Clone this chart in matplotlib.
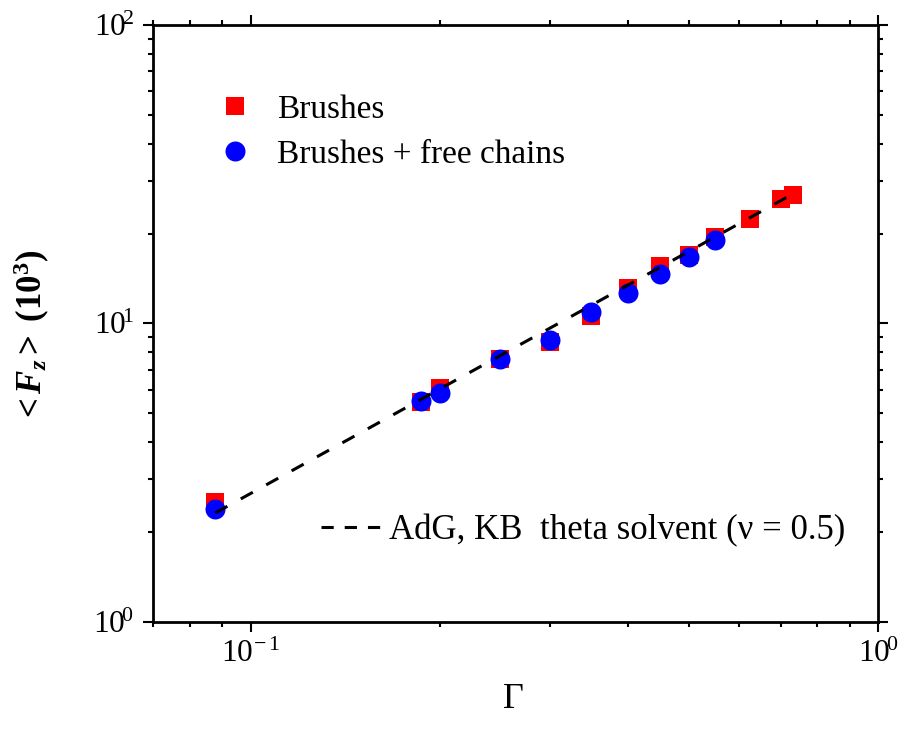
import matplotlib
matplotlib.use("Agg")
import matplotlib.pyplot as plt
from matplotlib.lines import Line2D
from matplotlib.ticker import LogLocator, FuncFormatter, NullFormatter
import numpy as np

plt.rcParams["font.family"] = ["Liberation Serif", "DejaVu Serif"]
plt.rcParams["mathtext.fontset"] = "custom"
plt.rcParams["mathtext.rm"] = "Liberation Serif"
plt.rcParams["mathtext.it"] = "Liberation Serif:italic"
plt.rcParams["mathtext.bf"] = "Liberation Serif:bold"
plt.rcParams["mathtext.bfit"] = "Liberation Serif:italic:bold"

# Grafting density and mean normal force (units of 10^3)
gamma_brush = [0.0879, 0.1872, 0.2000, 0.2501, 0.2997, 0.349, 0.3999, 0.4497,
               0.5000, 0.5500, 0.6246, 0.699, 0.7306]
fz_brush = [2.51, 5.47, 6.08, 7.57, 8.63, 10.55, 13.09, 15.6,
            16.95, 19.5, 22.3, 26.2, 26.85]

gamma_free = [0.0879, 0.1872, 0.2000, 0.2501, 0.2997, 0.349, 0.3999, 0.4497,
              0.5000, 0.5500]
fz_free = [2.38, 5.49, 5.84, 7.62, 8.80, 10.9, 12.62, 14.64, 16.66, 18.99]

# Scaling prediction (theta solvent), end points of the power-law line
gamma_theory = [0.0879, 0.73]
fz_theory = [2.315, 27.1]

W, H = 898, 731
fig = plt.figure(figsize=(W / 100, H / 100), dpi=100)
L, R, T, B = 152.5, 878.3, 25.0, 621.7
ax = fig.add_axes([L / W, 1 - B / H, (R - L) / W, (B - T) / H])

sq, = ax.plot(gamma_brush, fz_brush, linestyle="none", marker="s",
              markersize=12.6, color="#ff0000", markeredgewidth=0, zorder=3)
ci, = ax.plot(gamma_free, fz_free, linestyle="none", marker="o",
              markersize=14.4, color="#0000ff", markeredgewidth=0, zorder=4)
ax.plot(gamma_theory, fz_theory, color="black", linewidth=2.2,
        dashes=(4.5, 5.0), zorder=5)

ax.set_xscale("log")
ax.set_yscale("log")
ax.set_xlim(0.0698, 1.0)
ax.set_ylim(1.0, 100.0)


def decade_label(v, pos):
    e = int(round(np.log10(v)))
    return r"$\mathdefault{10^{\!%d}}$" % e


for a in (ax.xaxis, ax.yaxis):
    a.set_major_locator(LogLocator(base=10, numticks=10))
    a.set_minor_locator(LogLocator(base=10, subs=(2, 3, 4, 5, 6, 7, 8, 9), numticks=10))
    a.set_major_formatter(FuncFormatter(decade_label))
    a.set_minor_formatter(NullFormatter())

ax.tick_params(which="both", direction="out", top=True, right=True,
               labeltop=False, labelright=False, width=1.5)
ax.tick_params(which="major", length=7, labelsize=22.5, pad=6)
ax.tick_params(which="minor", length=3.8)
for s in ax.spines.values():
    s.set_linewidth(2.0)

leg1 = ax.legend([sq, ci], ["Brushes", "Brushes + free chains"],
                 loc="upper left", bbox_to_anchor=((218 - L) / (R - L), 1 - (94 - T) / (B - T)),
                 frameon=False, fontsize=24, numpoints=1, handlelength=1.0,
                 handletextpad=0.78, labelspacing=0.45, borderaxespad=0, borderpad=0)
ax.add_artist(leg1)

dash_handle = Line2D([], [], color="black", linewidth=2.2, dashes=(4.0, 3.6))
ax.legend([dash_handle], ["AdG, KB  theta solvent (\u03bd = 0.5)"],
          loc="upper left", bbox_to_anchor=((321 - L) / (R - L), 1 - (514 - T) / (B - T)),
          frameon=False, fontsize=25, handlelength=1.7, handletextpad=0.26,
          borderaxespad=0, borderpad=0)

fig.text(32 / W, 1 - 336 / H,
         r"$\mathbf{<}\mathbfit{F}_{\mathbfit{z}}\mathbf{>}\ \mathbf{(10^{3})}$",
         rotation=90, ha="center", va="center", fontsize=25)
fig.text(513 / W, 1 - 700 / H, "\u0393", ha="center", va="center", fontsize=26)

fig.savefig("out.png", dpi=100)
